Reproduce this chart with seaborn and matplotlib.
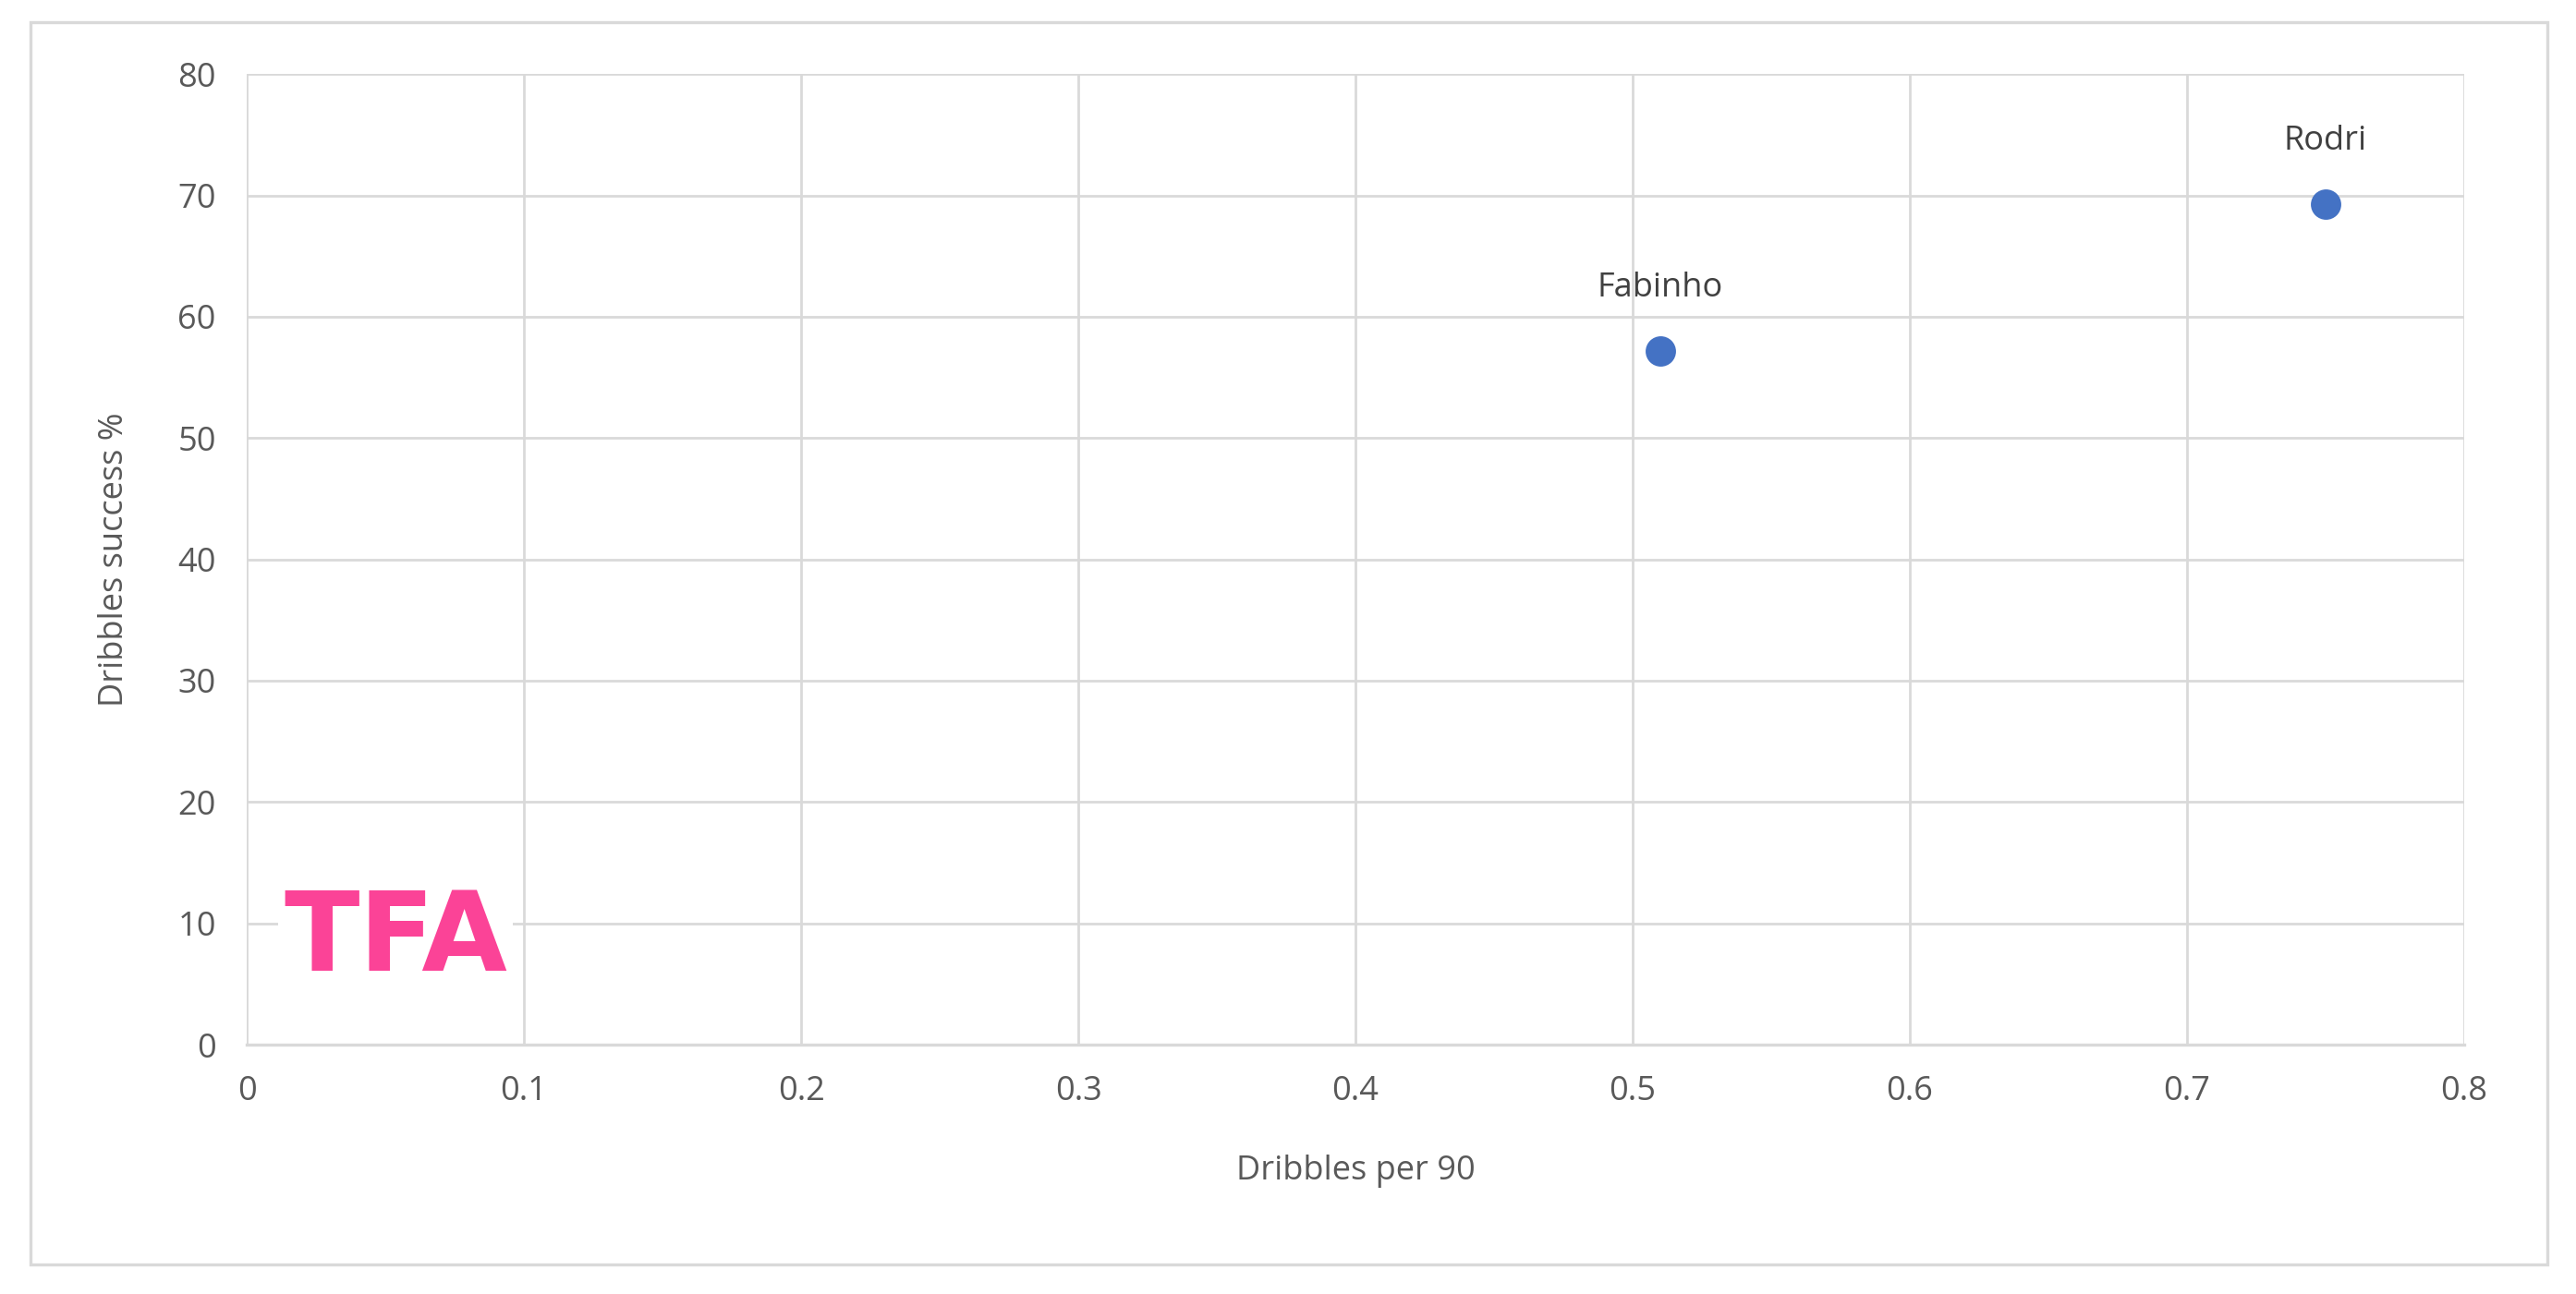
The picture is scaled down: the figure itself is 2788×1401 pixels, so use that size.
import matplotlib
matplotlib.use("Agg")
import matplotlib.pyplot as plt
import pandas as pd
import seaborn as sns
from matplotlib.patches import Rectangle

players = ["Fabinho", "Rodri"]
dribbles_per_90 = [0.51, 0.75]
dribble_success = [57.2, 69.3]

sns.set_theme(style="whitegrid")
plt.rcParams["font.family"] = ["Open Sans", "DejaVu Sans"]

df = pd.DataFrame({"player": players, "x": dribbles_per_90, "y": dribble_success})

fig = plt.figure(figsize=(13.94, 7.005), dpi=200)
fig.patches.append(Rectangle((0.012, 0.023), 0.977, 0.96, transform=fig.transFigure,
                             fill=False, edgecolor="#d9d9d9", linewidth=1.2))
ax = fig.add_axes([0.0958, 0.1927, 0.8608, 0.75])

sns.scatterplot(data=df, x="x", y="y", ax=ax, s=120, color="#4472C4",
                edgecolor="#4472C4", zorder=3)
for _, r in df.iterrows():
    ax.annotate(r["player"], (r["x"], r["y"]), xytext=(0, 18), textcoords="offset points",
                ha="center", va="bottom", fontsize=13, color="#404040")

ax.set_xlim(0, 0.8)
ax.set_ylim(0, 80)
ax.set_xticks([0, 0.1, 0.2, 0.3, 0.4, 0.5, 0.6, 0.7, 0.8])
ax.set_xticklabels(["0", "0.1", "0.2", "0.3", "0.4", "0.5", "0.6", "0.7", "0.8"])
ax.set_yticks(range(0, 81, 10))
ax.grid(True, color="#d9d9d9", linewidth=1.0)
ax.set_facecolor("white")
for side in ["top", "right", "left"]:
    ax.spines[side].set_visible(False)
ax.spines["bottom"].set_color("#d9d9d9")
ax.spines["bottom"].set_linewidth(1.2)
ax.tick_params(labelsize=13, colors="#595959", length=0, pad=12)
ax.set_xlabel("Dribbles per 90", fontsize=13, color="#595959", labelpad=18)
ax.set_ylabel("Dribbles success %", fontsize=13, color="#595959", labelpad=18)

ax.text(0.067, 0.108, "TFA", transform=ax.transAxes, fontsize=43, fontweight="heavy",
        color="#FB4397", ha="center", va="center", family=["DejaVu Sans"],
        bbox=dict(facecolor="white", edgecolor="none", pad=2), zorder=4)

fig.savefig("out.png", dpi=200)
